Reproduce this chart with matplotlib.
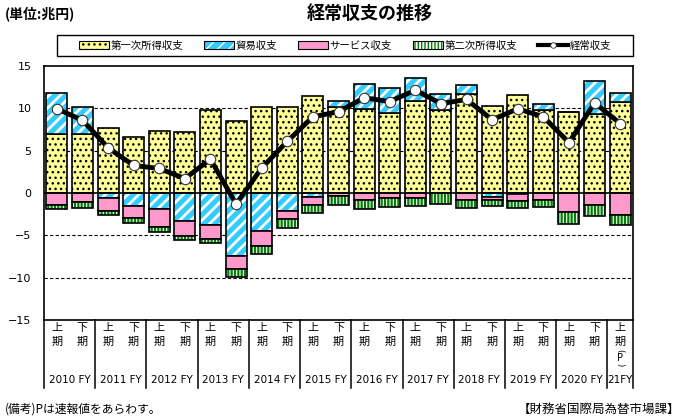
import matplotlib
matplotlib.use('Agg')
import matplotlib.pyplot as plt
import matplotlib.transforms as mtransforms
from matplotlib.patches import Patch, Rectangle
from matplotlib.lines import Line2D
import numpy as np

plt.rcParams['font.family'] = ['Noto Sans CJK JP', 'DejaVu Sans']

# half-year periods, 2010 FY H1 .. 2021 FY H1 (preliminary)
fy_labels = ['2010 FY', '2011 FY', '2012 FY', '2013 FY', '2014 FY', '2015 FY',
             '2016 FY', '2017 FY', '2018 FY', '2019 FY', '2020 FY', '21FY']
halves = ['上', '下'] * 11 + ['上']

# trillion yen
primary = [7.0, 7.0, 7.7, 6.6, 7.35, 7.2, 9.85, 8.55, 10.1, 10.1, 11.4, 10.1,
           9.95, 9.5, 10.9, 9.75, 11.65, 10.3, 11.6, 9.8, 9.55, 9.35, 10.8]
trade = [4.8, 3.2, -0.55, -1.5, -1.85, -3.3, -3.8, -7.4, -4.5, -2.15, -0.45, 0.8,
         2.95, 2.85, 2.7, 1.9, 1.05, -0.45, -0.15, 0.75, 0.05, 3.9, 1.05]
services = [-1.4, -1.05, -1.6, -1.45, -2.2, -1.75, -1.65, -1.6, -1.75, -0.9, -0.95, -0.3,
            -0.8, -0.55, -0.55, -0.05, -0.8, -0.35, -0.8, -0.85, -2.3, -1.4, -2.6]
secondary = [-0.5, -0.7, -0.5, -0.6, -0.55, -0.5, -0.5, -0.95, -1.0, -1.05, -0.95, -1.1,
             -1.1, -1.1, -0.95, -1.2, -1.0, -0.75, -0.8, -0.85, -1.4, -1.35, -1.2]
current = [9.95, 8.6, 5.35, 3.25, 2.9, 1.7, 4.0, -1.3, 2.95, 6.1, 9.0, 9.6,
           11.25, 10.8, 12.15, 10.55, 11.05, 8.65, 9.95, 9.0, 5.95, 10.65, 8.2]

YELLOW = '#FFFF99'
CYAN = '#33CCFF'
PINK = '#FF99CC'
GREEN = '#008000'

fig = plt.figure(figsize=(6.85, 4.2), dpi=100)
ax = fig.add_axes([44 / 685, 1 - 320 / 420, 589 / 685, 254 / 420])

x = np.arange(len(primary))
width = 0.82
pos = np.zeros(len(x))
neg = np.zeros(len(x))


def draw(vals, kind):
    global pos, neg
    v = np.array(vals, dtype=float)
    bottom = np.where(v >= 0, pos, neg)
    if kind == 'primary':
        with plt.rc_context({'hatch.linewidth': 1.0}):
            ax.bar(x, v, width, bottom=bottom, color=YELLOW, edgecolor='black',
                   hatch='...', linewidth=1.2, zorder=2)
    elif kind == 'trade':
        with plt.rc_context({'hatch.linewidth': 2.0}):
            ax.bar(x, v, width, bottom=bottom, color=CYAN, edgecolor='white',
                   hatch='///', linewidth=0, zorder=2)
        ax.bar(x, v, width, bottom=bottom, fill=False, edgecolor='black',
               linewidth=1.2, zorder=2)
    elif kind == 'services':
        ax.bar(x, v, width, bottom=bottom, color=PINK, edgecolor='black',
               linewidth=1.2, zorder=2)
    else:
        with plt.rc_context({'hatch.linewidth': 1.6}):
            ax.bar(x, v, width, bottom=bottom, color='white', edgecolor=GREEN,
                   hatch='|||||', linewidth=0, zorder=2)
        ax.bar(x, v, width, bottom=bottom, fill=False, edgecolor='black',
               linewidth=1.2, zorder=2)
    pos = pos + np.where(v >= 0, v, 0)
    neg = neg + np.where(v < 0, v, 0)


draw(primary, 'primary')
draw(trade, 'trade')
draw(services, 'services')
draw(secondary, 'secondary')

ax.plot(x, current, color='black', lw=3.5, marker='o', ms=7.5,
        mfc='white', mec='#333333', mew=0.8, zorder=5)

ax.set_xlim(-0.5, len(x) - 0.5)
ax.set_ylim(-15, 15)
ax.set_yticks(range(-15, 16, 5))
ax.set_yticklabels(['\u221215', '\u221210', '\u22125', '0', '5', '10', '15'],
                   family='DejaVu Sans')
ax.tick_params(axis='y', length=0, pad=9, labelsize=8)
ax.set_xticks([])
for yv in [10, 5, -5, -10]:
    ax.axhline(yv, color='black', lw=0.8, ls=(0, (3, 2)), zorder=1)
ax.axhline(0, color='black', lw=1.2, zorder=3)
for s in ax.spines.values():
    s.set_linewidth(1.2)

# lower label table
trans = mtransforms.blended_transform_factory(ax.transData, ax.transAxes)
for i, h in enumerate(halves):
    ax.text(i, -0.031, h, ha='center', va='center', fontsize=8, transform=trans)
    ax.text(i, -0.087, '期', ha='center', va='center', fontsize=8, transform=trans)
last = len(x) - 1
ax.text(last, -0.122, '(', rotation=-90, ha='center', va='center', fontsize=6,
        family='DejaVu Sans', transform=trans)
ax.text(last, -0.148, 'P', ha='center', va='center', fontsize=7,
        family='DejaVu Sans', transform=trans)
ax.text(last, -0.176, ')', rotation=-90, ha='center', va='center', fontsize=6,
        family='DejaVu Sans', transform=trans)
for k, lab in enumerate(fy_labels):
    xc = 2 * k + 0.5 if k < 11 else last
    ax.text(xc, -0.236, lab, ha='center', va='center', fontsize=7.5,
            family='DejaVu Sans', transform=trans)
for b in np.arange(-0.5, len(x), 2).tolist() + [len(x) - 0.5]:
    ax.plot([b, b], [0, -0.268], color='black', lw=1.1, transform=trans, clip_on=False)

# legend
h_primary = Patch(facecolor=YELLOW, edgecolor='black', hatch='...', linewidth=0.8)
h_trade = (Patch(facecolor=CYAN, edgecolor='white', hatch='///', linewidth=0),
           Patch(fill=False, edgecolor='black', linewidth=0.8))
h_serv = Patch(facecolor=PINK, edgecolor='black', linewidth=0.8)
h_sec = (Patch(facecolor='white', edgecolor=GREEN, hatch='|||||', linewidth=0),
         Patch(fill=False, edgecolor='black', linewidth=0.8))
h_line = Line2D([], [], color='black', lw=3, marker='o', ms=4, mfc='white',
                mec='#333333', mew=0.6)
fig.legend([h_primary, h_trade, h_serv, h_sec, h_line],
           ['第一次所得収支', '貿易収支', 'サービス収支', '第二次所得収支', '経常収支'],
           ncol=5, loc='center', bbox_to_anchor=(345 / 685, 1 - 45.5 / 420),
           frameon=False, fontsize=7.5, handlelength=2.9, handleheight=0.8,
           handletextpad=0.15, columnspacing=2.0, borderaxespad=0)
fig.patches.append(Rectangle((57 / 685, 1 - 56 / 420), 576 / 685, 21 / 420,
                             transform=fig.transFigure, fill=False,
                             edgecolor='black', linewidth=1.0))

fig.text(5 / 685, 1 - 14 / 420, '(単位:兆円)', fontsize=10, fontweight='bold', va='center')
fig.text(370 / 685, 1 - 13 / 420, '経常収支の推移', fontsize=13, fontweight='bold',
         ha='center', va='center')
fig.text(5 / 685, 1 - 409 / 420, '(備考)Pは速報値をあらわす。', fontsize=8.5, va='center')
fig.text(680 / 685, 1 - 409 / 420, '【財務省国際局為替市場課】', fontsize=9,
         ha='right', va='center')

fig.savefig('out.png', dpi=100)
